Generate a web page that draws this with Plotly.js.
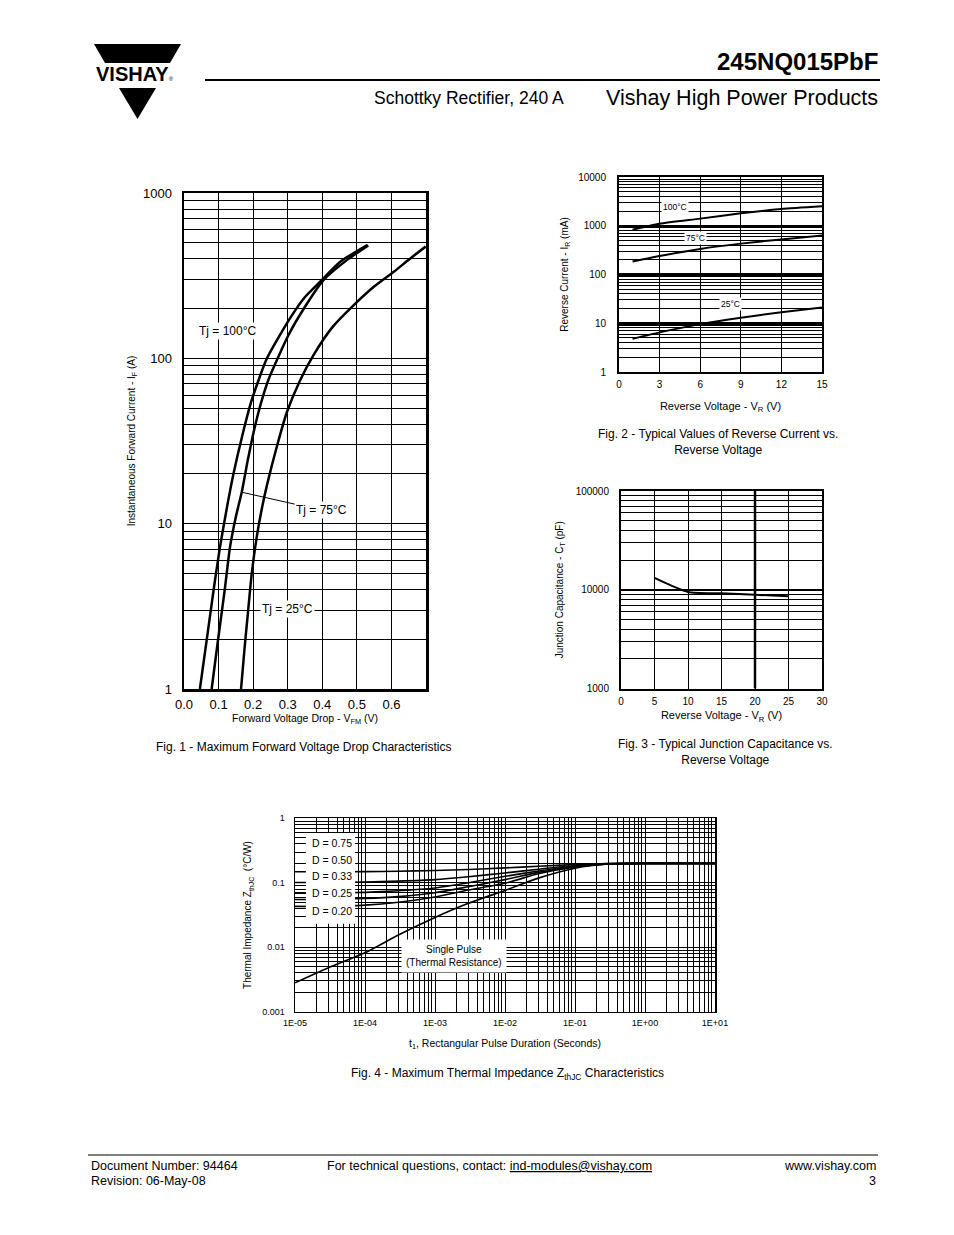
<!DOCTYPE html>
<html><head><meta charset="utf-8">
<script src="https://cdn.plot.ly/plotly-3.0.1.min.js"></script>
<style>html,body{margin:0;padding:0;background:#fff}#chart{width:954px;height:1235px}</style>
</head><body><div id="chart"></div>
<script>
// ---------- Fig. 1 data: forward voltage (V) vs forward current (A) ----------
const fig1Vf100 = [0.046, 0.070, 0.088, 0.104, 0.125, 0.143, 0.170, 0.196, 0.240, 0.307, 0.350, 0.394, 0.452, 0.530];
const fig1If100 = [1, 2.3, 4.3, 7.2, 12.8, 20, 35, 56, 100, 175, 235, 291, 384, 485];
const fig1Vf75  = [0.080, 0.100, 0.118, 0.133, 0.150, 0.167, 0.185, 0.203, 0.222, 0.245, 0.302, 0.350, 0.404, 0.472, 0.533];
const fig1If75  = [1, 2.1, 4.0, 7.2, 11, 15.5, 24.5, 37, 53, 75, 138, 205, 298, 394, 482];
const fig1Vf25  = [0.165, 0.175, 0.185, 0.196, 0.210, 0.225, 0.240, 0.270, 0.298, 0.335, 0.375, 0.430, 0.491, 0.550, 0.607, 0.650, 0.699];
const fig1If25  = [1, 1.75, 2.9, 5.0, 8.2, 12.3, 17.1, 30, 47.5, 73, 105, 155, 210, 272, 334, 395, 474];
const fig1XTicks = [0, 0.1, 0.2, 0.3, 0.4, 0.5, 0.6];
const fig1XTickText = ['0.0', '0.1', '0.2', '0.3', '0.4', '0.5', '0.6'];
const fig1YTicks = [1, 10, 100, 1000];
const fig1YTickText = ['1', '10', '100', '1000'];

// ---------- Fig. 2 data: reverse voltage (V) vs reverse current (mA) ----------
const fig2Vr = [1, 3, 6, 9, 12, 15];
const fig2Ir100 = [830, 1100, 1400, 1800, 2200, 2500];
const fig2Ir75  = [185, 240, 335, 430, 525, 630];
const fig2Ir25  = [4.8, 6.5, 9.6, 13, 16.8, 21];
const fig2XTicks = [0, 3, 6, 9, 12, 15];
const fig2YTicks = [1, 10, 100, 1000, 10000];
const fig2YTickText = ['1', '10', '100', '1000', '10000'];

// ---------- Fig. 3 data: reverse voltage (V) vs junction capacitance (pF) ----------
const fig3Vr = [5, 10, 15, 20, 25];
const fig3Ct = [13200, 9500, 9200, 8900, 8600];
const fig3XTicks = [0, 5, 10, 15, 20, 25, 30];
const fig3YTicks = [1000, 10000, 100000];
const fig3YTickText = ['1000', '10000', '100000'];

// ---------- Fig. 4 data: pulse duration (s) vs thermal impedance (°C/W) ----------
const fig4T = [1e-5, 3e-5, 1e-4, 3e-4, 1e-3, 3e-3, 1e-2, 3e-2, 1e-1, 3e-1, 1, 3, 10];
const fig4Single = [0.0028, 0.0048, 0.0082, 0.0155, 0.029, 0.048, 0.076, 0.118, 0.168, 0.195, 0.2, 0.2, 0.2];
const fig4D075 = [0.148, 0.148, 0.149, 0.151, 0.155, 0.161, 0.170, 0.180, 0.192, 0.199, 0.2, 0.2, 0.2];
const fig4D050 = [0.101, 0.101, 0.103, 0.106, 0.112, 0.124, 0.142, 0.162, 0.185, 0.198, 0.2, 0.2, 0.2];
const fig4D033 = [0.069, 0.069, 0.071, 0.075, 0.083, 0.100, 0.126, 0.152, 0.180, 0.197, 0.2, 0.2, 0.2];
const fig4D025 = [0.055, 0.055, 0.057, 0.061, 0.070, 0.087, 0.112, 0.145, 0.177, 0.196, 0.2, 0.2, 0.2];
const fig4D020 = [0.043, 0.043, 0.045, 0.050, 0.060, 0.077, 0.098, 0.138, 0.174, 0.195, 0.2, 0.2, 0.2];
const fig4DLabels = ['D = 0.75', 'D = 0.50', 'D = 0.33', 'D = 0.25', 'D = 0.20'];
const fig4XTicks = [1e-5, 1e-4, 1e-3, 1e-2, 1e-1, 1, 10];
const fig4XTickText = ['1E-05', '1E-04', '1E-03', '1E-02', '1E-01', '1E+00', '1E+01'];
const fig4YTicks = [0.001, 0.01, 0.1, 1];
const fig4YTickText = ['0.001', '0.01', '0.1', '1'];

// ---------- helpers ----------
const W = 954, H = 1235;
const FONT = 'Liberation Sans, Arial, Helvetica, sans-serif';
const BLK = '#000';
const px = x => x / W, py = y => 1 - y / H;
function logMinor(lo, hi) { const v = []; for (let e = lo; e < hi; e++) for (let d = 2; d <= 9; d++) v.push(d * Math.pow(10, e)); return v; }
function axis(domain, anchor, opts) {
  return Object.assign({
    domain: domain, anchor: anchor, showline: true, mirror: true, linecolor: BLK, linewidth: 2,
    showgrid: true, gridcolor: BLK, gridwidth: 1, zeroline: false, ticks: '',
    tickfont: {family: FONT, size: 10, color: BLK}, tickmode: 'array', fixedrange: true, automargin: false
  }, opts);
}
function minorGrid(lo, hi, w) { return {tickmode: 'array', tickvals: logMinor(lo, hi), showgrid: true, gridcolor: BLK, gridwidth: w || 1, ticks: ''}; }
function ttl(text, size, standoff) { return {text: text, font: {family: FONT, size: size, color: BLK}, standoff: standoff}; }
function line(x, y, xa, ya, w) { return {x: x, y: y, xaxis: xa, yaxis: ya, type: 'scatter', mode: 'lines', line: {color: BLK, width: w, shape: 'spline', smoothing: 0.6}, hoverinfo: 'skip'}; }
function note(text, x, y, size, extra) {
  return Object.assign({text: text, x: x, y: y, xref: 'paper', yref: 'paper', showarrow: false,
    xanchor: 'center', yanchor: 'middle', font: {family: FONT, size: size, color: BLK}}, extra || {});
}

// ---------- traces ----------
const traces = [
  line(fig1Vf100, fig1If100, 'x', 'y', 2.5),
  line(fig1Vf75, fig1If75, 'x', 'y', 2.5),
  line(fig1Vf25, fig1If25, 'x', 'y', 2.5),
  line(fig2Vr, fig2Ir100, 'x2', 'y2', 2),
  line(fig2Vr, fig2Ir75, 'x2', 'y2', 2),
  line(fig2Vr, fig2Ir25, 'x2', 'y2', 2),
  line(fig3Vr, fig3Ct, 'x3', 'y3', 2),
  line(fig4T, fig4D075, 'x4', 'y4', 1.6),
  line(fig4T, fig4D050, 'x4', 'y4', 1.6),
  line(fig4T, fig4D033, 'x4', 'y4', 1.6),
  line(fig4T, fig4D025, 'x4', 'y4', 1.6),
  line(fig4T, fig4D020, 'x4', 'y4', 1.6),
  line(fig4T, fig4Single, 'x4', 'y4', 1.6)
];

// ---------- layout ----------
const layout = {
  width: W, height: H, margin: {l: 0, r: 0, t: 0, b: 0}, paper_bgcolor: '#fff', plot_bgcolor: '#fff',
  showlegend: false, font: {family: FONT, color: BLK},
  xaxis: axis([px(184), px(426)], 'y', {range: [0, 0.7], tickvals: fig1XTicks, ticktext: fig1XTickText, linewidth: 2.5,
    tickfont: {family: FONT, size: 13, color: BLK}, ticklabelstandoff: 2, title: ttl('Forward Voltage Drop - V<sub>FM</sub> (V)', 10.5, 0)}),
  yaxis: axis([py(689), py(193)], 'x', {type: 'log', range: [0, 3], tickvals: fig1YTicks, ticktext: fig1YTickText, linewidth: 2.5,
    minor: minorGrid(0, 3), tickfont: {family: FONT, size: 13, color: BLK}, ticklabelstandoff: 7,
    title: ttl('Instantaneous Forward Current - I<sub>F</sub> (A)', 10, 6)}),
  xaxis2: axis([px(619), px(822)], 'y2', {range: [0, 15], tickvals: fig2XTicks, ticktext: fig2XTicks.map(String),
    ticklabelstandoff: 2, title: ttl('Reverse Voltage - V<sub>R</sub> (V)', 11, 13)}),
  yaxis2: axis([py(372), py(177)], 'x2', {type: 'log', range: [0, 4], tickvals: fig2YTicks, ticktext: fig2YTickText, gridwidth: 2.5,
    minor: minorGrid(0, 4), ticklabelstandoff: 9, title: ttl('Reverse Current - I<sub>R</sub> (mA)', 10, 8)}),
  xaxis3: axis([px(621), px(822)], 'y3', {range: [0, 30], tickvals: fig3XTicks, ticktext: fig3XTicks.map(String),
    ticklabelstandoff: 2, title: ttl('Reverse Voltage - V<sub>R</sub> (V)', 11, 6)}),
  yaxis3: axis([py(688.5), py(491)], 'x3', {type: 'log', range: [3, 5], tickvals: fig3YTicks, ticktext: fig3YTickText, gridwidth: 2.5,
    minor: minorGrid(3, 5), ticklabelstandoff: 8, title: ttl('Junction Capacitance - C<sub>T</sub> (pF)', 10, 10)}),
  xaxis4: axis([px(295), px(715)], 'y4', {type: 'log', range: [-5, 1], tickvals: fig4XTicks, ticktext: fig4XTickText, linewidth: 1.5,
    minor: minorGrid(-5, 1), tickfont: {family: FONT, size: 9, color: BLK}, ticklabelstandoff: 2,
    title: ttl('t<sub>1</sub>, Rectangular Pulse Duration (Seconds)', 10.5, 12)}),
  yaxis4: axis([py(1011.7), py(818.3)], 'x4', {type: 'log', range: [-3, 0], tickvals: fig4YTicks, ticktext: fig4YTickText, linewidth: 1.5,
    minor: minorGrid(-3, 0), tickfont: {family: FONT, size: 9, color: BLK}, ticklabelstandoff: 7,
    title: ttl('Thermal Impedance Z<sub>thJC</sub>  (°C/W)', 10, 8)}),
  shapes: [],
  annotations: []
};

// header / footer graphics
const P = (x, y) => px(x) + ',' + py(y);
layout.shapes.push(
  {type: 'path', xref: 'paper', yref: 'paper', path: 'M' + P(94, 44) + 'L' + P(181, 44) + 'L' + P(170, 63) + 'L' + P(105, 63) + 'Z', fillcolor: BLK, line: {width: 0}},
  {type: 'path', xref: 'paper', yref: 'paper', path: 'M' + P(119, 88) + 'L' + P(156, 88) + 'L' + P(137.5, 119) + 'Z', fillcolor: BLK, line: {width: 0}},
  {type: 'line', xref: 'paper', yref: 'paper', x0: px(205), x1: px(880), y0: py(80), y1: py(80), line: {color: BLK, width: 2}},
  {type: 'line', xref: 'paper', yref: 'paper', x0: px(88), x1: px(878), y0: py(1155), y1: py(1155), line: {color: BLK, width: 1}},
  // thick reference line in Fig. 3
  {type: 'line', xref: 'x3', yref: 'y3 domain', x0: 20, x1: 20, y0: 0, y1: 1, line: {color: BLK, width: 2.5}, layer: 'below'},
  // white panel behind the duty-cycle labels of Fig. 4
  {type: 'rect', xref: 'x4 domain', yref: 'y4 domain', x0: 0.026, x1: 0.143, y0: 0.455, y1: 0.924, fillcolor: '#fff', line: {width: 0}, layer: 'above'}
);

const A = layout.annotations;
A.push(
  note('<b>VISHAY</b><span style="font-size:6px">®</span>', px(135), py(74), 20),
  note('<b>245NQ015PbF</b>', px(880), py(62), 24, {xanchor: 'right'}),
  note('Schottky Rectifier, 240 A', px(372), py(98), 17.5, {xanchor: 'left'}),
  note('Vishay High Power Products', px(880), py(98), 21.5, {xanchor: 'right'}),
  // captions
  note('Fig. 1 - Maximum Forward Voltage Drop Characteristics', px(303.5), py(747), 12),
  note('Fig. 2 - Typical Values of Reverse Current vs.<br>Reverse Voltage', px(718), py(442), 12),
  note('Fig. 3 - Typical Junction Capacitance vs.<br>Reverse Voltage', px(725), py(751.5), 12),
  note('Fig. 4 - Maximum Thermal Impedance Z<sub>thJC</sub> Characteristics', px(507), py(1074), 12),
  // footer
  note('Document Number: 94464', px(89), py(1166), 12.5, {xanchor: 'left'}),
  note('Revision: 06-May-08', px(89), py(1181), 12.5, {xanchor: 'left'}),
  note('For technical questions, contact: <span style="text-decoration:underline">ind-modules@vishay.com</span>', px(325), py(1166), 12.5, {xanchor: 'left'}),
  note('www.vishay.com', px(878), py(1166), 12.5, {xanchor: 'right'}),
  note('3', px(878), py(1181), 12.5, {xanchor: 'right'}),
  // Fig. 1 curve labels
  note('Tj = 100°C', px(227), py(331), 12, {bgcolor: '#fff', borderpad: 1}),
  note('Tj = 25°C', px(287), py(609), 12, {bgcolor: '#fff', borderpad: 1}),
  {text: 'Tj = 75°C', xref: 'x', yref: 'y', x: 0.167, y: Math.log10(15.5), ax: 80, ay: 18, showarrow: true, arrowhead: 0,
   arrowwidth: 1, arrowcolor: BLK, bgcolor: '#fff', borderpad: 1, font: {family: FONT, size: 12, color: BLK}},
  // Fig. 2 curve labels
  note('100°C', px(675), py(207), 8.5, {bgcolor: '#fff', borderpad: 1}),
  note('75°C', px(695), py(238), 8.5, {bgcolor: '#fff', borderpad: 1}),
  note('25°C', px(730), py(304), 8.5, {bgcolor: '#fff', borderpad: 1}),
  // Fig. 4 labels
  note('Single Pulse<br>(Thermal Resistance)', px(454), py(956), 10, {bgcolor: '#fff', borderpad: 4})
);
const dLabelY = [843, 860, 876, 893, 911];
fig4DLabels.forEach((t, i) => A.push(note(t, px(332), py(dLabelY[i]), 10.5, {bgcolor: '#fff'})));

Plotly.newPlot('chart', traces, layout, {staticPlot: true, displayModeBar: false});
</script>
</body></html>
